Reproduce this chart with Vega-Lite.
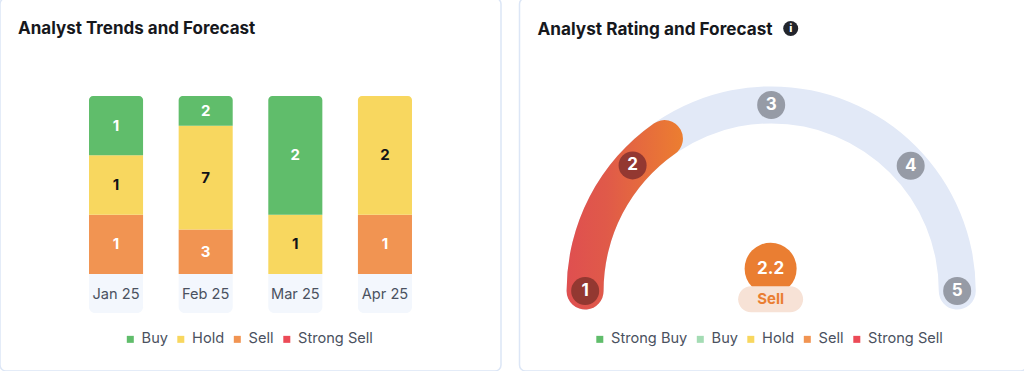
{
"$schema":"https://vega.github.io/schema/vega-lite/v6.json",
"padding":{"left":-1,"top":-3,"right":0,"bottom":0},
"background":"#ffffff",
"bounds":"flush",
"spacing":18.5,
"config":{"font":"Inter","view":{"stroke":"#DCE6F6","strokeWidth":1.5,"cornerRadius":6}},
"resolve":{"scale":{"color":"independent","x":"independent","y":"independent"}},
"hconcat":[
{
"width":501,"height":373,
"title":{"text":"Analyst Trends and Forecast","anchor":"start","frame":"group","dx":18,"offset":-40,"fontSize":17,"fontWeight":700,"color":"#16181D","font":"Inter"},
"encoding":{
 "x":{"field":"month","type":"nominal","title":null,"scale":{"domain":["Jan 25","Feb 25","Mar 25","Apr 25"],"paddingInner":0.397,"paddingOuter":0.993},
  "axis":{"orient":"bottom","offset":-77,"domain":false,"ticks":false,"grid":false,"labelAngle":0,"labelPadding":0,"labelBaseline":"middle","labelFontSize":14.6,"labelColor":"#4A5160","labelFont":"Inter","zindex":1}}
},
"layer":[
 {"data":{"values":[{"month":"Jan 25"},{"month":"Feb 25"},{"month":"Mar 25"},{"month":"Apr 25"}]},
  "mark":{"type":"bar","fill":"#F3F7FD","cornerRadiusBottomLeft":6,"cornerRadiusBottomRight":6},
  "encoding":{"y":{"datum":0,"type":"quantitative","title":null,"axis":null,"scale":{"domain":[-0.5449,1.5506],"nice":false,"zero":false}},"y2":{"datum":-0.219}}},
 {"data":{"name":"trends","values":[
  {"month":"Jan 25","rating":"Sell","count":1},{"month":"Jan 25","rating":"Hold","count":1},{"month":"Jan 25","rating":"Buy","count":1},
  {"month":"Feb 25","rating":"Sell","count":3},{"month":"Feb 25","rating":"Hold","count":7},{"month":"Feb 25","rating":"Buy","count":2},
  {"month":"Mar 25","rating":"Hold","count":1},{"month":"Mar 25","rating":"Buy","count":2},
  {"month":"Apr 25","rating":"Sell","count":1},{"month":"Apr 25","rating":"Hold","count":2}]},
  "transform":[{"stack":"count","groupby":["month"],"sort":[{"field":"rating","order":"descending"}],"offset":"normalize","as":["y0","y1"]},{"calculate":"(datum.y0+datum.y1)/2","as":"mid"}],
  "layer":[
   {"transform":[{"filter":"datum.y1<0.999"}],
    "mark":{"type":"bar"},
    "encoding":{"y":{"field":"y0","type":"quantitative","axis":null,"title":null},"y2":{"field":"y1"},
     "color":{"field":"rating","type":"nominal","scale":{"domain":["Buy","Hold","Sell","Strong Sell"],"range":["#60BD6B","#F8D75F","#F19452","#EC4A57"]},
      "legend":{"orient":"none","legendX":123,"legendY":334,"direction":"horizontal","columns":4,"title":null,"padding":0,"symbolType":"square","symbolSize":49,"symbolStrokeWidth":0,"labelFontSize":14.6,"labelColor":"#4A5160","labelFont":"Inter","labelOffset":4,"columnPadding":5.5,"symbolOpacity":1}}}},
   {"transform":[{"filter":"datum.y1>=0.999"}],
    "mark":{"type":"bar","cornerRadiusTopLeft":4,"cornerRadiusTopRight":4},
    "encoding":{"y":{"field":"y0","type":"quantitative","axis":null,"title":null},"y2":{"field":"y1"},
     "color":{"field":"rating","type":"nominal"}}},
   {"mark":{"type":"text","fontSize":15,"fontWeight":700,"font":"Inter"},
    "encoding":{"y":{"field":"mid","type":"quantitative","axis":null,"title":null},"text":{"field":"count","type":"quantitative"},
     "color":{"condition":{"test":"datum.rating=='Hold'","value":"#111318"},"value":"#ffffff"}}}
  ]}
]
},
{
"width":507,"height":373,
"title":{"text":"Analyst Rating and Forecast","anchor":"start","frame":"group","dx":18,"offset":-40,"fontSize":17.2,"fontWeight":700,"color":"#16181D","font":"Inter"},
"layer":[
 {"data":{"values":[{"part":"track","from":-95.7,"to":95.7}]},
  "mark":{"type":"arc","radius":204.6,"radius2":167.6,"cornerRadius":18.5,"fill":"#E2E9F7"},
  "encoding":{
   "x":{"datum":0,"type":"quantitative","axis":null,"title":null,"scale":{"domain":[-1.353,1.3726],"nice":false,"zero":false}},
   "y":{"datum":0,"type":"quantitative","axis":null,"title":null,"scale":{"domain":[-0.4301,1.5753],"nice":false,"zero":false}},
   "theta":{"field":"from","type":"quantitative","scale":{"domain":[-180,180],"range":[-3.14159265,3.14159265]}},
   "theta2":{"field":"to"}}},
 {"data":{"values":[{"part":"score","from":-95.7,"to":-29.3}]},
  "mark":{"type":"arc","radius":204.6,"radius2":167.6,"cornerRadius":18.5,
   "fill":{"gradient":"linear","x1":0,"y1":0,"x2":1,"y2":0,"stops":[{"offset":0,"color":"#DF4F50"},{"offset":0.35,"color":"#E05A49"},{"offset":1,"color":"#EC7E30"}]}},
  "encoding":{
   "x":{"datum":0,"type":"quantitative"},
   "y":{"datum":0,"type":"quantitative"},
   "theta":{"field":"from","type":"quantitative"},
   "theta2":{"field":"to"}}},
 {"data":{"name":"stops","values":[
   {"level":"1","gx":-1,"gy":0,"passed":true},
   {"level":"2","gx":-0.745,"gy":0.675,"passed":true},
   {"level":"3","gx":0,"gy":1,"passed":false},
   {"level":"4","gx":0.75,"gy":0.673,"passed":false},
   {"level":"5","gx":1,"gy":0,"passed":false}]},
  "layer":[
   {"mark":{"type":"point","shape":"circle","filled":true,"size":784,"opacity":1},
    "encoding":{"x":{"field":"gx","type":"quantitative"},"y":{"field":"gy","type":"quantitative"},
     "color":{"condition":{"test":"datum.passed","value":"#933831"},"value":"#969BA6"}}},
   {"mark":{"type":"text","fontSize":17,"fontWeight":700,"color":"#ffffff","font":"Inter"},
    "encoding":{"x":{"field":"gx","type":"quantitative"},"y":{"field":"gy","type":"quantitative"},"text":{"field":"level"}}}
  ]},
 {"data":{"values":[{"score":"2.2","label":"Sell","gx":-0.003,"gy":0.12,"ly":-0.045}]},
  "layer":[
   {"mark":{"type":"point","shape":"circle","filled":true,"size":2704,"opacity":1,"color":"#EA7E32"},
    "encoding":{"x":{"field":"gx","type":"quantitative"},"y":{"field":"gy","type":"quantitative"}}},
   {"mark":{"type":"rect","fill":"#F7E2D6","cornerRadius":13},
    "encoding":{"x":{"datum":-0.1777,"type":"quantitative"},"x2":{"datum":0.1717},"y":{"datum":0.0253,"type":"quantitative"},"y2":{"datum":-0.1145}}},
   {"mark":{"type":"text","fontSize":17,"fontWeight":700,"color":"#ffffff","font":"Inter"},
    "encoding":{"x":{"field":"gx","type":"quantitative"},"y":{"field":"gy","type":"quantitative"},"text":{"field":"score"}}},
   {"mark":{"type":"text","fontSize":15,"fontWeight":700,"color":"#EA7E32","font":"Inter"},
    "encoding":{"x":{"field":"gx","type":"quantitative"},"y":{"field":"ly","type":"quantitative"},"text":{"field":"label"}}}
  ]},
 {"data":{"values":[{"icon":"i","gx":0.105,"gy":1.411}]},
  "layer":[
   {"mark":{"type":"point","shape":"circle","filled":true,"size":225,"opacity":1,"color":"#22252C"},
    "encoding":{"x":{"field":"gx","type":"quantitative"},"y":{"field":"gy","type":"quantitative"}}},
   {"mark":{"type":"text","fontSize":11,"fontWeight":800,"color":"#ffffff","font":"Inter"},
    "encoding":{"x":{"field":"gx","type":"quantitative"},"y":{"field":"gy","type":"quantitative"},"text":{"field":"icon"}}}
  ]},
 {"data":{"values":[{"rating":"Strong Buy"},{"rating":"Buy"},{"rating":"Hold"},{"rating":"Sell"},{"rating":"Strong Sell"}]},
  "mark":{"type":"point","shape":"square","filled":true,"opacity":0,"size":1},
  "encoding":{"x":{"datum":0,"type":"quantitative"},"y":{"datum":0,"type":"quantitative"},
   "color":{"field":"rating","type":"nominal","scale":{"domain":["Strong Buy","Buy","Hold","Sell","Strong Sell"],"range":["#60BD6B","#A4DCB4","#F8D75F","#F19452","#EC4A57"]},
    "legend":{"orient":"none","legendX":73,"legendY":334,"direction":"horizontal","columns":5,"title":null,"padding":0,"symbolType":"square","symbolSize":49,"symbolStrokeWidth":0,"symbolOpacity":1,"labelFontSize":14.6,"labelColor":"#4A5160","labelFont":"Inter","labelOffset":4,"columnPadding":5.5}}}}
]
}
]
}
